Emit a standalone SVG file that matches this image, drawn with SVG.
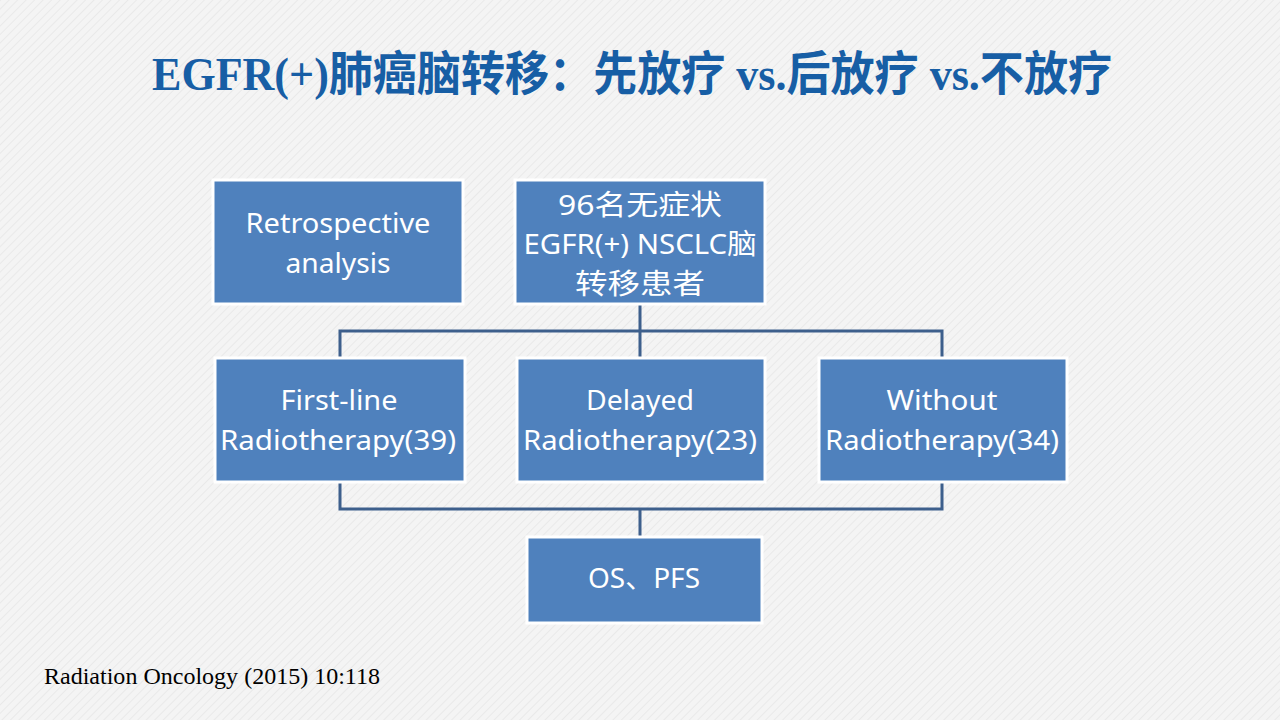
<svg xmlns="http://www.w3.org/2000/svg" width="1280" height="720" viewBox="0 0 1280 720">
<defs>
<pattern id="bg" width="6" height="6" patternUnits="userSpaceOnUse" patternTransform="rotate(45)">
<rect width="6" height="6" fill="#f4f4f4"/>
<line x1="0" y1="0" x2="0" y2="6" stroke="#e9e9e9" stroke-width="2"/>
</pattern>
<style>
.box{fill:#4f81bd;stroke:#ffffff;stroke-width:3}
.t{font-family:"Noto Sans","Noto Sans CJK SC",sans-serif;font-size:28px;fill:#ffffff;text-anchor:middle}
.c{fill:none;stroke:#3d5f8c;stroke-width:3}
</style>
</defs>
<rect width="1280" height="720" fill="url(#bg)"/>
<text x="632" y="90" text-anchor="middle" font-family="'Liberation Serif','Noto Sans CJK SC',serif" font-weight="bold" font-size="47" fill="#175ea5" textLength="960" lengthAdjust="spacingAndGlyphs">EGFR(+)肺癌脑转移：先放疗 vs.后放疗 vs.不放疗</text>
<g id="connectors">
<path class="c" d="M640 304 V358 M340 358 V331 H942 V358"/>
<path class="c" d="M340 482 V509 H942 V482 M640 509 V537"/>
</g>
<g id="n1"><rect class="box" x="213" y="180" width="250" height="124"/>
<text class="t" x="338" y="233" textLength="185" lengthAdjust="spacingAndGlyphs">Retrospective</text><text class="t" x="338" y="273" textLength="105" lengthAdjust="spacingAndGlyphs">analysis</text></g>
<g id="n2"><rect class="box" x="515" y="180" width="250" height="124"/>
<text class="t" x="640" y="215" textLength="164" lengthAdjust="spacingAndGlyphs">96名无症状</text><text class="t" x="640" y="254" textLength="233" lengthAdjust="spacingAndGlyphs">EGFR(+) NSCLC脑</text><text class="t" x="640" y="294" textLength="130" lengthAdjust="spacingAndGlyphs">转移患者</text></g>
<g id="n3"><rect class="box" x="215" y="358" width="250" height="124"/>
<text class="t" x="339" y="410" textLength="117" lengthAdjust="spacingAndGlyphs">First-line</text><text class="t" x="338" y="450" textLength="236" lengthAdjust="spacingAndGlyphs">Radiotherapy(39)</text></g>
<g id="n4"><rect class="box" x="517" y="358" width="248" height="124"/>
<text class="t" x="640" y="410" textLength="108" lengthAdjust="spacingAndGlyphs">Delayed</text><text class="t" x="640" y="450" textLength="234" lengthAdjust="spacingAndGlyphs">Radiotherapy(23)</text></g>
<g id="n5"><rect class="box" x="819" y="358" width="248" height="124"/>
<text class="t" x="942" y="410" textLength="111" lengthAdjust="spacingAndGlyphs">Without</text><text class="t" x="942" y="450" textLength="234" lengthAdjust="spacingAndGlyphs">Radiotherapy(34)</text></g>
<g id="n6"><rect class="box" x="527" y="537" width="235" height="86"/>
<text class="t" x="644" y="588" textLength="112" lengthAdjust="spacingAndGlyphs">OS、PFS</text></g>
<text x="44" y="684" font-family="'Liberation Serif',serif" font-size="24" fill="#000000" textLength="336" lengthAdjust="spacingAndGlyphs">Radiation Oncology (2015) 10:118</text>
</svg>
